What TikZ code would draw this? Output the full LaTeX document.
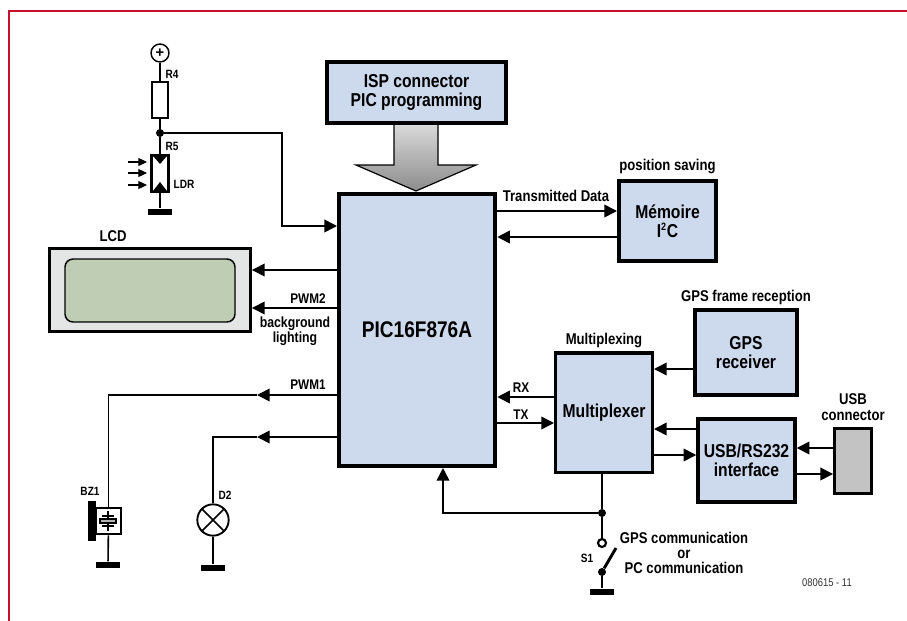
\documentclass[tikz,border=0pt]{standalone}
\usepackage{fontspec}
\usepackage{xcolor}
\usepackage{tikz}
\setmainfont{Liberation Sans}
\newfontfamily\narrowfont[FakeStretch=0.84]{Liberation Sans}
\usetikzlibrary{arrows.meta,positioning}
\definecolor{boxblue}{HTML}{CDD9EC}
\definecolor{framered}{HTML}{C8102E}
\definecolor{lcdgrey}{HTML}{E4E6E5}
\definecolor{lcdgreen}{HTML}{BFCDB4}
\definecolor{usbgrey}{HTML}{C3C3C3}

\begin{document}
\begin{tikzpicture}
[x=0.75pt, y=-0.75pt, font=\narrowfont\bfseries,
% STYLES
% The block style is used for the large functional blocks
block/.style={rectangle, draw, fill=boxblue, line width=2.6pt, inner sep=0pt, align=center, font=\narrowfont\bfseries\fontsize{14}{14.5}\selectfont},
% The comment style is used for the small captions
comment/.style={inner sep=0pt, align=center, font=\narrowfont\bfseries\fontsize{11.7}{12}\selectfont},
% The signal style is used for the names on the connectors
signal/.style={inner sep=0pt, align=center, font=\narrowfont\bfseries\fontsize{10.5}{11.5}\selectfont},
part/.style={inner sep=0pt, font=\narrowfont\bfseries\fontsize{9}{10}\selectfont},
% Connectors
wire/.style={line width=1.2pt},
sig/.style={wire, -{Triangle[length=9.5pt,width=9.5pt]}},
ray/.style={line width=0.9pt, -{Triangle[length=6.5pt,width=6pt]}},
gnd/.style={rectangle, fill=black, inner sep=0pt, minimum width=18pt, minimum height=5pt},
dot/.style={circle, fill=black, inner sep=0pt, minimum size=6pt}]

\useasboundingbox (0,0) rectangle (907,621);
\draw[framered, line width=0.9pt] (907,11) -- (9,11) -- (9,621);

% Draw blocks
\node [block, line width=3.4pt, minimum width=117pt, minimum height=204pt, font=\narrowfont\bfseries\fontsize{17}{18}\selectfont] (pic) at (417,330) {PIC16F876A};
\node [block, minimum width=134pt, minimum height=45.75pt] (isp) at (416.5,92.5) {ISP connector\\PIC programming};
\node [block, line width=3pt, minimum width=72.75pt, minimum height=60pt] (memory) at (667.5,221) {Mémoire\\I\textsuperscript{\fontsize{8}{8}\selectfont 2}C};
\node [block, minimum width=72.4pt, minimum height=89.6pt] (mux) at (604,412.5) {Multiplexer};
\node [block, minimum width=76.5pt, minimum height=63.75pt] (gps) at (746,352.5) {GPS\\receiver};
\node [block, minimum width=72.75pt, minimum height=62.25pt] (usbif) at (746.5,460.5) {USB/RS232\\interface};
\node [rectangle, draw, fill=usbgrey, line width=2.2pt, minimum width=27.75pt, minimum height=48.75pt, inner sep=0pt] (usbconn) at (853,461) {};

% LCD
\node [rectangle, draw, fill=lcdgrey, line width=2.2pt, minimum width=150.75pt, minimum height=62.25pt, inner sep=0pt] (lcd) at (150,290) {};
\node [rectangle, draw, fill=lcdgreen, line width=1.1pt, rounded corners=6pt, minimum width=127.5pt, minimum height=47.25pt, inner sep=0pt] (lcdglass) at (150,290.5) {};

% ISP arrow
\shade[top color=black!15, bottom color=black!45, draw=black, line width=0.9pt]
(394,125) -- (394,165) -- (356,165) -- (416,191) -- (476,165) -- (438,165) -- (438,125);

% Captions
\node [comment] at (113,236) {LCD};
\node [comment, above=4pt of memory] {position saving};
\node [comment, above=2.5pt of gps] {GPS frame reception};
\node [comment, above=2.5pt of mux] {Multiplexing};
\node [comment, above=4.5pt of usbconn] {USB\\connector};
\node [comment] at (556,196) {Transmitted Data};
\node [signal] at (308,299) {PWM2};
\node [comment, font=\narrowfont\bfseries\fontsize{11}{11.5}\selectfont] at (295,331) {background\\lighting};
\node [signal] at (308,385) {PWM1};
\node [signal] at (521,388) {RX};
\node [signal] at (521,415) {TX};
\node [comment, font=\narrowfont\bfseries\fontsize{11.7}{11.2}\selectfont] at (684,553) {GPS communication\\or\\PC communication};
\node [inner sep=0pt, font=\narrowfont\fontsize{8.4}{10}\selectfont, black!80] at (827,583) {080615 - 11};

% Connection points
\coordinate (in-ldr) at (337,226);
\coordinate (pwm1-tip) at (257,395);
\coordinate (led-tip) at (257,437);
\coordinate (prog-in) at (443,468);

% Draw the links between blocks
\path[sig]
(pic.east |- 0,211) edge (memory.west |- 0,211)
(memory.west |- 0,237) edge (pic.east |- 0,237)
(pic.west |- 0,270) edge (lcd.east |- 0,270)
(pic.west |- 0,308) edge (lcd.east |- 0,308)
(pic.west |- pwm1-tip) edge (pwm1-tip)
(pic.west |- led-tip) edge (led-tip)
(mux.west |- 0,397) edge (pic.east |- 0,397)
(pic.east |- 0,423) edge (mux.west |- 0,423)
(gps.west |- 0,369) edge (mux.east |- 0,369)
(usbif.west |- 0,429) edge (mux.east |- 0,429)
(mux.east |- 0,455) edge (usbif.west |- 0,455)
(usbconn.west |- 0,448) edge (usbif.east |- 0,448)
(usbif.east |- 0,474) edge (usbconn.west |- 0,474);

% R4 and LDR
\node [circle, draw, line width=1.1pt, inner sep=0pt, minimum size=13.5pt, font=\bfseries\fontsize{11}{11}\selectfont] (plus) at (160,53) {+};
\node [rectangle, draw, fill=white, line width=1.7pt, inner sep=0pt, minimum width=12.5pt, minimum height=27.5pt] (r4) at (160,100) {};
\node [dot] (junction) at (160,133) {};
\node [rectangle, draw, fill=white, line width=1.9pt, inner sep=0pt, minimum width=12.5pt, minimum height=27.5pt] (ldr) at (160,173.5) {};
\node [gnd] (gnd-ldr) at (160,212) {};
\fill (153,156) -- (167,156) -- (160,164) -- cycle;
\fill (153,191) -- (167,191) -- (160,182) -- cycle;
\node [part] at (172,74) {R4};
\node [part] at (172,146) {R5};
\node [part] at (184,184) {LDR};
\coordinate (ray-a) at (128,162);
\coordinate (ray-b) at (128,173);
\coordinate (ray-c) at (128,185);
\path[ray]
(ray-a) edge +(19,0)
(ray-b) edge +(19,0)
(ray-c) edge +(19,0);
\path[wire]
(plus) edge (r4)
(r4) edge (junction)
(junction) edge (ldr)
(ldr) edge (gnd-ldr);
\draw[sig] (junction) -| (282,226) -- (in-ldr);

% BZ1
\node [rectangle, draw, fill=white, line width=1.5pt, inner sep=0pt, minimum width=18.5pt, minimum height=20pt] (bz1) at (108.5,521) {};
\node [rectangle, fill=black, inner sep=0pt, minimum width=6pt, minimum height=30pt] (bz1-plate) at (92,521) {};
\draw[wire] (108,511) -- (108,531);
\draw[wire] (102,516) -- (114,516);
\draw[wire] (102,526) -- (114,526);
\draw[wire, fill=black!30] (100,519) rectangle (116,523);
\node [gnd] (gnd-bz1) at (108,565) {};
\node [part] at (90,491) {BZ1};
\draw[wire] (pwm1-tip) -| (bz1.north);
\path[wire] (bz1) edge (gnd-bz1);

% D2
\node [circle, draw, fill=white, line width=1.4pt, inner sep=0pt, minimum size=23.5pt] (lamp) at (213,520) {};
\draw[wire] (lamp.45) -- (lamp.225) (lamp.135) -- (lamp.315);
\node [gnd] (gnd-lamp) at (213,568) {};
\node [part] at (225,495) {D2};
\draw[wire] (led-tip) -| (lamp.north);
\path[wire] (lamp) edge (gnd-lamp);

% S1
\node [dot] (mux-dot) at (602,513) {};
\node [circle, draw, fill=white, line width=1.6pt, inner sep=0pt, minimum size=6pt] (s1-top) at (602,543) {};
\node [dot] (s1-base) at (602,572) {};
\coordinate (s1-end) at (616,548);
\node [gnd] (gnd-s1) at (602,592) {};
\node [part] at (587,558) {S1};
\draw[line width=2.2pt] (s1-base) -- (s1-end);
\path[wire]
(mux.south -| mux-dot) edge (mux-dot)
(mux-dot) edge (s1-top)
(s1-base) edge (gnd-s1);
\draw[sig] (mux-dot) -| (prog-in);

\end{tikzpicture}
\end{document}
